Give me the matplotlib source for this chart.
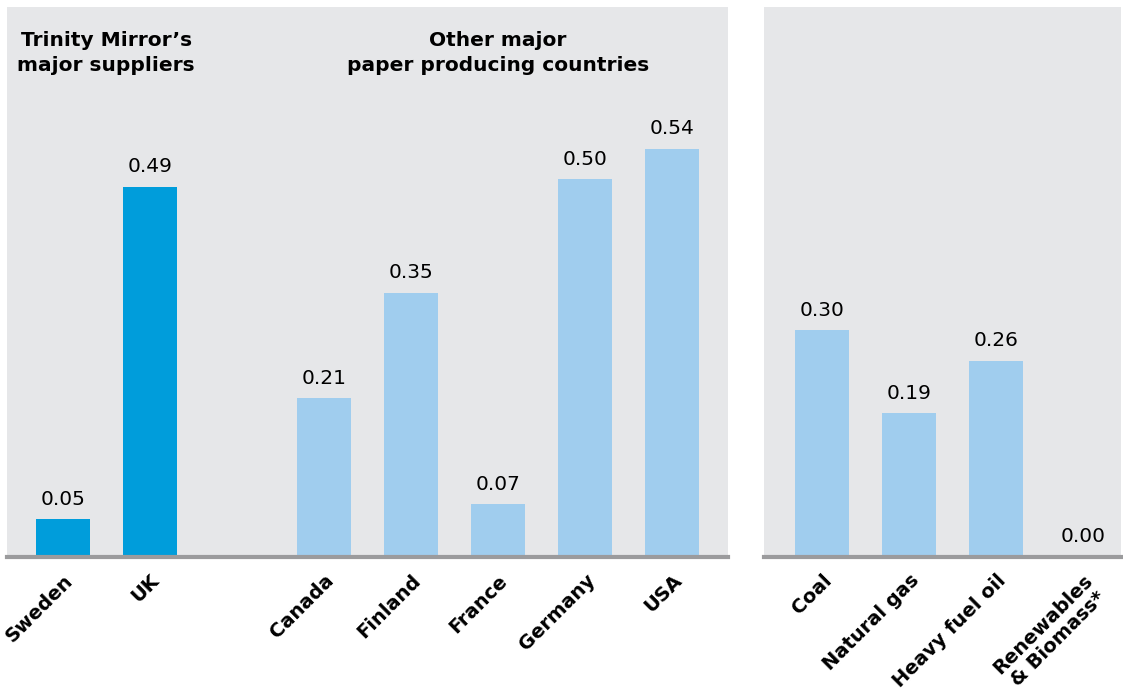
import matplotlib.pyplot as plt

# carbon intensity by supplier / producing country and by energy source
countries = ["Sweden", "UK", "", "Canada", "Finland", "France", "Germany", "USA"]
country_vals = [0.05, 0.49, None, 0.21, 0.35, 0.07, 0.50, 0.54]
fuels = ["Coal", "Natural gas", "Heavy fuel oil", "Renewables\n& Biomass*"]
fuel_vals = [0.30, 0.19, 0.26, 0.00]

dark = "#009ddb"
light = "#a0cdee"
bg = "#e6e7e9"
base = "#9b9b9d"

fig = plt.figure(figsize=(11.23, 6.98), dpi=100)
ax1 = fig.add_axes([7 / 1123, 1 - 557 / 698, 721 / 1123, 550 / 698])
ax2 = fig.add_axes([764 / 1123, 1 - 557 / 698, 357 / 1123, 550 / 698])

ymax = 0.728


def style(ax, labels, xlim):
    ax.set_facecolor(bg)
    ax.set_xlim(*xlim)
    ax.set_ylim(0, ymax)
    for s in ["top", "right", "left"]:
        ax.spines[s].set_visible(False)
    ax.spines["bottom"].set_color(base)
    ax.spines["bottom"].set_linewidth(3)
    ax.set_yticks([])
    ax.set_xticks(range(len(labels)))
    ax.set_xticklabels(labels, rotation=45, ha="right", rotation_mode="anchor",
                       fontsize=14, fontweight="bold", linespacing=1.1,
                       multialignment="center")
    ax.tick_params(axis="x", length=0, pad=10)


def bars(ax, vals, colors):
    for i, (v, c) in enumerate(zip(vals, colors)):
        if v is None:
            continue
        ax.bar(i, v, width=0.62, color=c)
        ax.text(i, v + 0.014, f"{v:.2f}", ha="center", va="bottom", fontsize=14.5)


style(ax1, countries, (-0.64, 7.64))
bars(ax1, country_vals, [dark, dark] + [light] * 6)

style(ax2, fuels, (-0.67, 3.43))
bars(ax2, fuel_vals, [light] * 4)

# group headings
ax1.text(0.5, 0.667, "Trinity Mirror\u2019s\nmajor suppliers", ha="center", va="center",
         fontsize=14.5, fontweight="bold", linespacing=1.45)
ax1.text(5, 0.667, "Other major\npaper producing countries", ha="center", va="center",
         fontsize=14.5, fontweight="bold", linespacing=1.45)

fig.savefig("out.png", dpi=100)
